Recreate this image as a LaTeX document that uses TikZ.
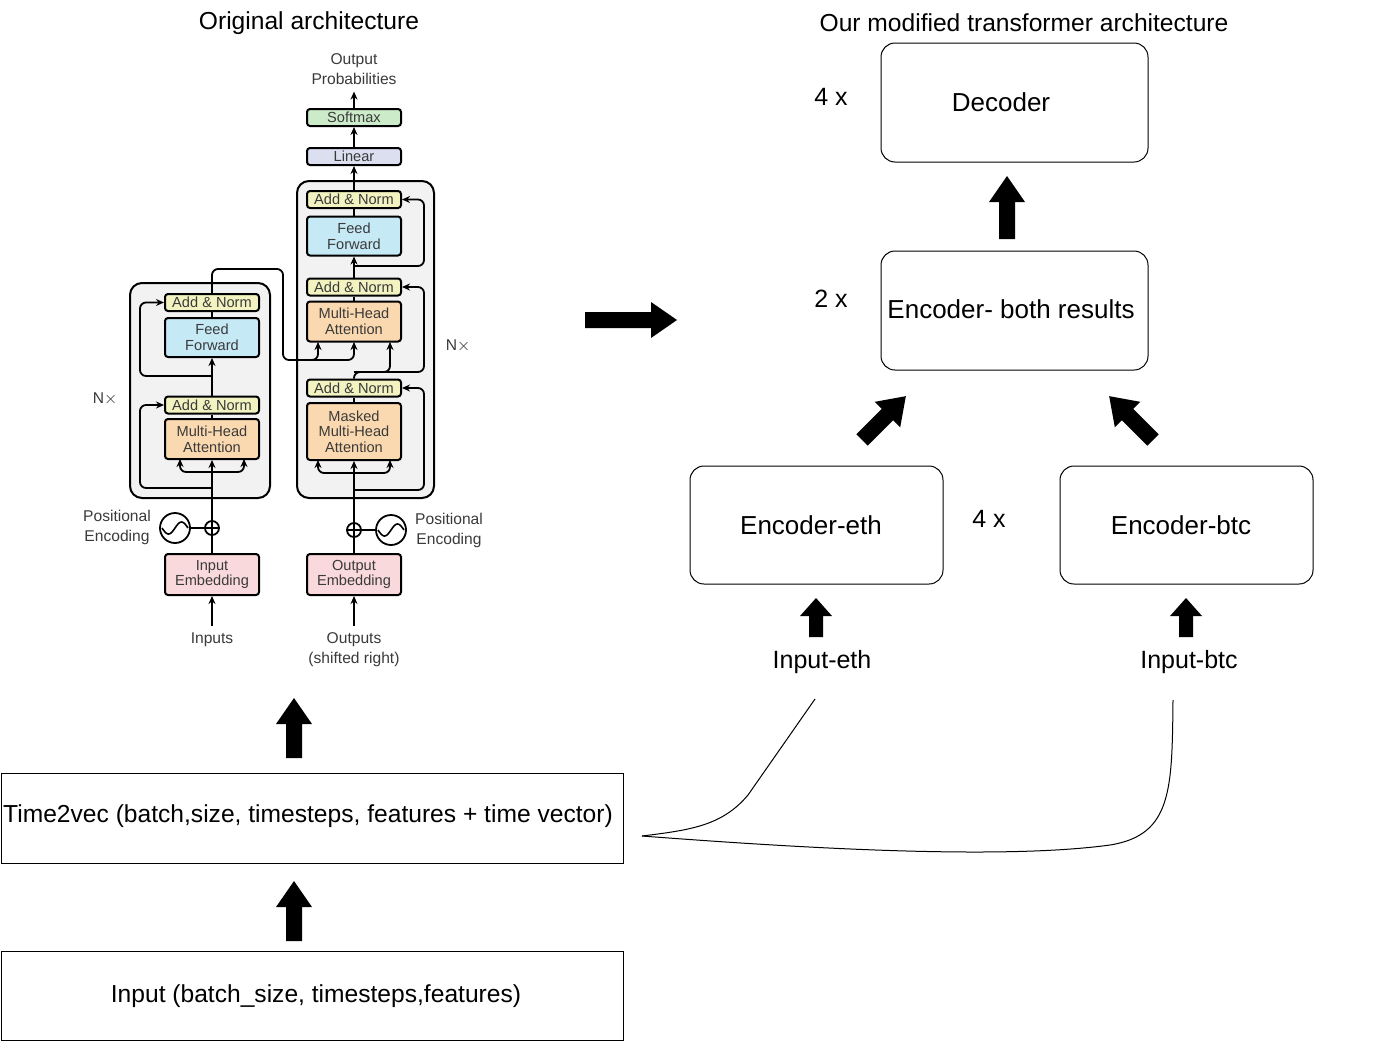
\documentclass[tikz,border=0pt]{standalone}
\usepackage{fontspec}
\setmainfont{Liberation Sans}
\usetikzlibrary{arrows.meta}
\definecolor{tgray}{HTML}{3A3A3A}
\definecolor{cAN}{HTML}{F2F3C1}
\definecolor{cFF}{HTML}{C6E9F6}
\definecolor{cMH}{HTML}{FBD9B0}
\definecolor{cLin}{HTML}{DCDFF0}
\definecolor{cSm}{HTML}{CCEBC9}
\definecolor{cEmb}{HTML}{F9D9DB}
\definecolor{cBg}{HTML}{F2F2F2}
\begin{document}
\begin{tikzpicture}[x=0.5pt,y=-0.5pt,
  blk/.style={draw=black,line width=1pt,rounded corners=1.5pt,minimum width=47pt,inner sep=0pt,align=center,font=\fontsize{7.3}{7.8}\selectfont,text=tgray},
  an/.style={blk,fill=cAN,minimum height=8.5pt},
  ff/.style={blk,fill=cFF,minimum height=19.5pt},
  mh/.style={blk,fill=cMH,minimum height=20pt},
  tl/.style={font=\fontsize{7.8}{10}\selectfont,text=tgray,align=center},
  ln/.style={line width=0.9pt,rounded corners=3pt},
  ar/.style={ln,-{Stealth[length=4pt,width=3.5pt]}},
  bg/.style={draw=black,line width=1pt,fill=cBg,rounded corners=6pt},
  rbox/.style={draw=black,line width=0.5pt,rounded corners=7pt,font=\fontsize{13}{15}\selectfont},
  sq/.style={draw=black,line width=0.5pt,font=\fontsize{12.3}{14}\selectfont},
  lbl/.style={font=\fontsize{12.5}{14}\selectfont},
  barr/.pic={\fill[black] (-8,0)--(-8,-#1+26)--(-18,-#1+26)--(0,-#1)--(18,-#1+26)--(8,-#1+26)--(8,0)--cycle;},
  sbar/.pic={\fill[black] (-7,0)--(-7,-#1+18)--(-16,-#1+18)--(0,-#1)--(16,-#1+18)--(7,-#1+18)--(7,0)--cycle;}
]
\path[use as bounding box] (0,0) rectangle (1400,1050);
% titles
\node[font=\fontsize{12.3}{14}\selectfont] (t1) at (309,23) {Original architecture};
\node[font=\fontsize{12.3}{14}\selectfont] (t2) at (1024,23) {Our modified transformer architecture};
% backgrounds
\draw[bg] (130,283) rectangle (270,498);
\draw[bg] (297,181) rectangle (434,498);
% encoder blocks
\node[an] (eAN2) at (212,302.5) {Add \& Norm};
\node[ff] (eFF) at (212,337.5) {Feed\\Forward};
\node[an] (eAN1) at (212,405) {Add \& Norm};
\node[mh] (eMH) at (212,439) {Multi-Head\\Attention};
\node[blk,fill=cEmb,minimum height=20.5pt] (iEmb) at (212,574.5) {Input\\Embedding};
% decoder blocks
\node[an] (dAN3) at (354,199.5) {Add \& Norm};
\node[ff] (dFF) at (354,236) {Feed\\Forward};
\node[an] (dAN2) at (354,287) {Add \& Norm};
\node[mh] (dMH) at (354,321.5) {Multi-Head\\Attention};
\node[an] (dAN1) at (354,388) {Add \& Norm};
\node[blk,fill=cMH,minimum height=28.5pt] (dMM) at (354,431.5) {Masked\\Multi-Head\\Attention};
\node[blk,fill=cEmb,minimum height=20.5pt] (oEmb) at (354,574.5) {Output\\Embedding};
\node[blk,fill=cLin,minimum height=8.5pt] (lin) at (354,156.5) {Linear};
\node[blk,fill=cSm,minimum height=8.5pt] (sm) at (354,117.5) {Softmax};
% labels
\node[tl] (op) at (354,69) {Output\\Probabilities};
\node[tl] (inp) at (212,640) {Inputs};
\node[tl] (outp) at (354,650) {Outputs\\(shifted right)};
\node[tl] (pe1) at (117,527) {Positional\\Encoding};
\node[tl] (pe2) at (449,530) {Positional\\Encoding};
\node[tl] (nx1) at (105,399) {N$\times$};
\node[tl] (nx2) at (458,346) {N$\times$};
% positional circles
\node[draw,circle,line width=0.9pt,minimum size=15pt,inner sep=0pt] (s1) at (175,528) {};
\draw[line width=0.8pt] plot[domain=-1:1,samples=30] ({175+13*\x},{528-6*sin(\x*180)});
\node[draw,circle,line width=0.9pt,minimum size=7pt,inner sep=0pt] (p1) at (212,528) {};
\draw[line width=0.8pt] (p1.north)--(p1.south) (p1.west)--(p1.east);
\draw[ln] (s1.east)--(p1.west);
\node[draw,circle,line width=0.9pt,minimum size=15pt,inner sep=0pt] (s2) at (391,530) {};
\draw[line width=0.8pt] plot[domain=-1:1,samples=30] ({391+13*\x},{530-6*sin(\x*180)});
\node[draw,circle,line width=0.9pt,minimum size=7pt,inner sep=0pt] (p2) at (354,530) {};
\draw[line width=0.8pt] (p2.north)--(p2.south) (p2.west)--(p2.east);
\draw[ln] (s2.west)--(p2.east);
% encoder connectors
\draw[ar] (inp.north)--(iEmb.south);
\draw[ln] (iEmb.north)--(p1.south);
\draw[ar] (p1.north)--(eMH.south);
\draw[ar] (212,488)-|(140,430)|-(eAN1.west);
\draw[ar] (212,472)-|(180,459);
\draw[ar] (212,472)-|(244,459);
\draw[ln] (eMH.north)--(eAN1.south);
\draw[ar] (eAN1.north)--(eFF.south);
\draw[ar] (212,376)-|(140,340)|-(eAN2.west);
\draw[ln] (eFF.north)--(eAN2.south);
\draw[ar] (eAN2.north)|-(283,269)|-(318,360)--(318,342);
\draw[ar] (300,360)-|(354,342);
% decoder connectors
\draw[ar] (outp.north)--(oEmb.south);
\draw[ln] (oEmb.north)--(p2.south);
\draw[ar] (p2.north)--(dMM.south);
\draw[ar] (354,490)-|(424,420)|-(dAN1.east);
\draw[ar] (354,473)-|(318,460);
\draw[ar] (354,473)-|(390,460);
\draw[ln] (dMM.north)--(dAN1.south);
\draw[ar] (dAN1.north)--(354,372)-|(390,342);
\draw[ar] (354,372)-|(424,320)|-(dAN2.east);
\draw[ln] (dMH.north)--(dAN2.south);
\draw[ar] (dAN2.north)--(dFF.south);
\draw[ar] (354,266)-|(424,230)|-(dAN3.east);
\draw[ln] (dFF.north)--(dAN3.south);
\draw[ar] (dAN3.north)--(lin.south);
\draw[ar] (lin.north)--(sm.south);
\draw[ar] (sm.north)--(op.south);
% bottom boxes
\node[sq,minimum width=311pt,minimum height=45pt] (tv) at (312,818) {};
\node[sq,draw=none] (tvt) at (308,816) {Time2vec (batch,size, timesteps, features + time vector)};
\node[sq,minimum width=311pt,minimum height=44.5pt] (in) at (312,995.5) {};
\node[sq,draw=none] (int) at (316,996) {Input (batch\_size, timesteps,features)};
% right boxes
\node[rbox,minimum width=133.5pt,minimum height=59.5pt] (dec) at (1014.5,102.5) {};
\node[rbox,draw=none] (dect) at (1001,102.5) {Decoder};
\node[rbox,minimum width=133.5pt,minimum height=59.5pt] (both) at (1014.5,310.5) {};
\node[rbox,draw=none] (botht) at (1011,309) {Encoder- both results};
\node[rbox,minimum width=126.5pt,minimum height=59pt] (eth) at (816.5,525) {};
\node[rbox,draw=none] (etht) at (811,525) {Encoder-eth};
\node[rbox,minimum width=126.5pt,minimum height=59pt] (btc) at (1186.5,525) {};
\node[rbox,draw=none] (btct) at (1181,525) {Encoder-btc};
\node[lbl] (n1) at (831,97) {4 x};
\node[lbl] (n2) at (831,299) {2 x};
\node[lbl] (n3) at (989,519) {4 x};
\node[lbl] (ie) at (822,662) {Input-eth};
\node[lbl] (ib) at (1189,662) {Input-btc};
% block arrows
\pic at (294,758) {barr=60};
\pic at (294,941) {barr=60};
\pic[rotate=-90] at (585,320) {barr=92};
\pic at (1007,239) {barr=63};
\pic[rotate=-45] at (862,440) {barr=62};
\pic[rotate=45] at (1153,440) {barr=62};
\pic at (816,637) {sbar=39};
\pic at (1186,637) {sbar=39};
% curly lines
\coordinate (c0) at (642,836);
\coordinate (c1) at (815,699);
\coordinate (c2) at (1173,700);
\draw[line width=0.5pt] (c1)--(748,795) .. controls (722,826) and (690,830) .. (c0);
\draw[line width=0.5pt] (c0) .. controls (800,848) and (1000,860) .. (1110,845) .. controls (1172,835) and (1172,790) .. (c2);
\end{tikzpicture}
\end{document}
